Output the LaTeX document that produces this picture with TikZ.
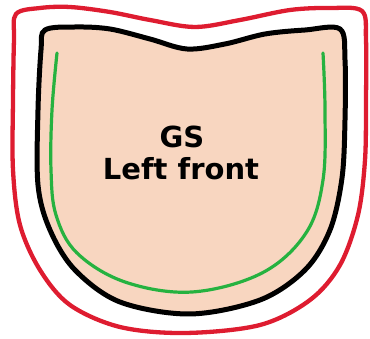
\documentclass[tikz,border=0pt]{standalone}
\usepackage{fontspec}
\setsansfont{DejaVu Sans}
\usepackage{xcolor}
\usepackage{tikz}
\usetikzlibrary{positioning}
\definecolor{skin}{RGB}{248,214,192}
\definecolor{outred}{RGB}{222,28,48}
\definecolor{seamgreen}{RGB}{38,178,64}
\tikzset{
  margin line/.style={draw=outred, line width=4.3pt, line join=round},
  cut line/.style={draw=black, line width=5pt, fill=skin, line join=round},
  seam line/.style={draw=seamgreen, line width=3.2pt, line cap=round},
  label text/.style={font=\sffamily\bfseries\fontsize{29}{34}\selectfont, text=black, anchor=base, inner sep=0pt}
}
\begin{document}
\begin{tikzpicture}[x=1pt, y=-1pt]
\useasboundingbox (0,0) rectangle (370,339);
% outer margin
\draw[margin line] plot[smooth cycle, tension=0.55] coordinates {
  (16,14) (40,8) (70,7) (110,12) (150,20) (195,27) (240,20) (290,10)
  (330,8) (362,11) (366,40) (366,100) (365,160) (358,215) (340,265)
  (310,300) (260,325) (185,333) (120,327) (70,305) (40,270) (20,225)
  (13,170) (13,100) (14,40)};
% pattern piece
\draw[cut line] plot[smooth cycle, tension=0.55] coordinates {
  (45,30) (75,27) (110,29) (150,39) (187,49) (225,44) (265,34) (305,30)
  (340,29) (345,60) (345,120) (342,178) (330,230) (305,270) (260,300)
  (190,314) (120,302) (75,270) (50,230) (38,185) (38,110) (41,50)};
% seam
\draw[seam line] plot[smooth, tension=0.6] coordinates {
  (57,53) (52,110) (51,170) (56,215) (77,253) (125,282) (192,292)
  (262,273) (306,233) (323,180) (325,110) (323,53)};
\node[label text] (name) at (182,148) {GS};
\node[label text] (side) at (181,180) {Left front};
\end{tikzpicture}
\end{document}
